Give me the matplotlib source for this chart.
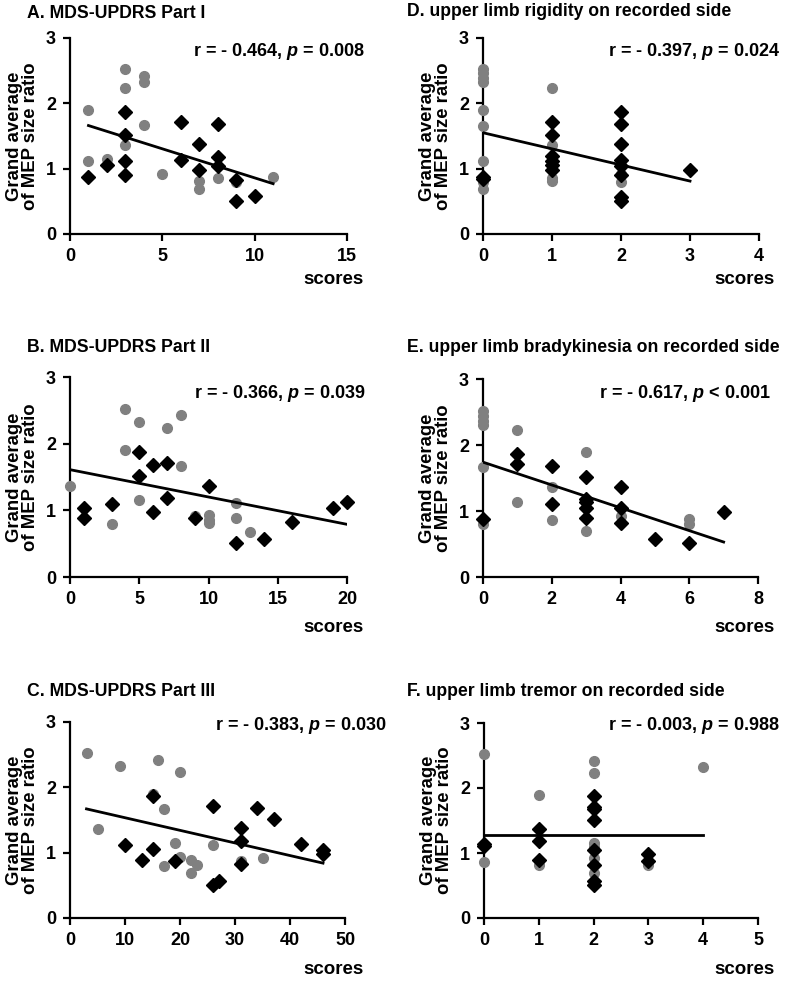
import numpy as np
import matplotlib
matplotlib.use("Agg")
import matplotlib.pyplot as plt

plt.rcParams['font.family'] = ['Liberation Sans', 'DejaVu Sans']
plt.rcParams['font.weight'] = 'bold'
plt.rcParams['mathtext.fontset'] = 'custom'
plt.rcParams['mathtext.bfit'] = 'Liberation Sans:italic:bold'
plt.rcParams['mathtext.rm'] = 'Liberation Sans:bold'

# ---- data (gray circles / black diamonds / fitted line) ----
a_gray_x = [1, 1, 2, 3, 3, 3, 4, 4, 4, 5, 7, 7, 8, 9, 11]
a_gray_y = [1.90, 1.11, 1.15, 2.52, 2.23, 1.36, 2.42, 2.33, 1.67, 0.92, 0.81, 0.69, 0.86, 0.80, 0.88]
a_blk_x = [1, 2, 3, 3, 3, 3, 6, 6, 7, 7, 8, 8, 8, 9, 9, 10]
a_blk_y = [0.88, 1.05, 1.87, 1.51, 1.11, 0.90, 1.71, 1.14, 1.37, 0.98, 1.68, 1.18, 1.04, 0.82, 0.51, 0.58]
a_fit_x = [1, 11]
a_fit_y = [1.66, 0.77]

b_gray_x = [0, 3, 4, 4, 5, 5, 7, 8, 8, 9, 10, 10, 10, 12, 12, 13]
b_gray_y = [1.36, 0.80, 2.52, 1.90, 2.32, 1.15, 2.23, 2.43, 1.67, 0.92, 0.93, 0.86, 0.81, 1.11, 0.88, 0.68]
b_blk_x = [1, 1, 3, 5, 5, 6, 6, 7, 7, 9, 10, 12, 14, 16, 19, 20]
b_blk_y = [1.04, 0.89, 1.10, 1.87, 1.51, 1.68, 0.98, 1.71, 1.18, 0.88, 1.37, 0.51, 0.57, 0.82, 1.04, 1.13]
b_fit_x = [0, 20]
b_fit_y = [1.61, 0.79]

c_gray_x = [3, 9, 16, 20, 15, 17, 5, 19, 26, 20, 22, 23, 17, 22, 31, 35]
c_gray_y = [2.52, 2.32, 2.42, 2.23, 1.90, 1.67, 1.36, 1.15, 1.12, 0.93, 0.89, 0.81, 0.80, 0.69, 0.87, 0.92]
c_blk_x = [15, 26, 34, 37, 31, 31, 42, 46, 46, 10, 15, 13, 19, 31, 26, 27]
c_blk_y = [1.87, 1.71, 1.68, 1.51, 1.37, 1.18, 1.14, 1.04, 0.98, 1.11, 1.05, 0.89, 0.88, 0.83, 0.51, 0.57]
c_fit_x = [3, 46]
c_fit_y = [1.67, 0.84]

d_gray_x = [0, 0, 0, 0, 0, 0, 0, 0, 0, 1, 1, 1, 1, 2, 2]
d_gray_y = [2.52, 2.46, 2.39, 2.32, 1.90, 1.66, 1.11, 0.80, 0.69, 2.23, 1.36, 0.86, 0.81, 0.92, 0.80]
d_blk_x = [0, 0, 1, 1, 1, 1, 1, 1, 2, 2, 2, 2, 2, 2, 2, 2, 3]
d_blk_y = [0.88, 0.84, 1.71, 1.51, 1.20, 1.12, 1.05, 0.98, 1.87, 1.68, 1.37, 1.14, 1.04, 0.90, 0.57, 0.51, 0.98]
d_fit_x = [0, 3]
d_fit_y = [1.55, 0.81]

e_gray_x = [0, 0, 0, 0, 0, 0, 1, 1, 2, 2, 3, 3, 3, 4, 6, 6]
e_gray_y = [2.52, 2.44, 2.37, 2.31, 1.66, 0.80, 2.23, 1.14, 1.36, 0.86, 1.90, 1.15, 0.69, 0.92, 0.88, 0.81]
e_blk_x = [0, 1, 1, 2, 2, 3, 3, 3, 3, 3, 4, 4, 4, 5, 6, 7]
e_blk_y = [0.88, 1.87, 1.71, 1.68, 1.11, 1.51, 1.18, 1.14, 1.05, 0.90, 1.37, 1.04, 0.82, 0.57, 0.51, 0.98]
e_fit_x = [0, 7]
e_fit_y = [1.74, 0.53]

f_gray_x = [0, 0, 1, 1, 2, 2, 2, 2, 2, 2, 3, 4]
f_gray_y = [2.52, 0.86, 1.90, 0.81, 2.42, 2.23, 1.15, 1.10, 0.92, 0.69, 0.81, 2.32]
f_blk_x = [0, 0, 1, 1, 1, 2, 2, 2, 2, 2, 2, 2, 2, 3, 3]
f_blk_y = [1.14, 1.11, 1.37, 1.18, 0.90, 1.87, 1.71, 1.68, 1.51, 1.04, 0.82, 0.57, 0.51, 0.98, 0.88]
f_fit_x = [0, 4]
f_fit_y = [1.28, 1.28]

titles = ["A. MDS-UPDRS Part I", "B. MDS-UPDRS Part II", "C. MDS-UPDRS Part III",
          "D. upper limb rigidity on recorded side",
          "E. upper limb bradykinesia on recorded side",
          "F. upper limb tremor on recorded side"]
stats = [r"r = - 0.464, $\mathbfit{p}$ = 0.008", r"r = - 0.366, $\mathbfit{p}$ = 0.039",
         r"r = - 0.383, $\mathbfit{p}$ = 0.030", r"r = - 0.397, $\mathbfit{p}$ = 0.024",
         r"r = - 0.617, $\mathbfit{p}$ < 0.001", r"r = - 0.003, $\mathbfit{p}$ = 0.988"]
xmax = [15, 20, 50, 4, 8, 5]
xstep = [5, 5, 10, 1, 2, 1]

panels = [
    (a_gray_x, a_gray_y, a_blk_x, a_blk_y, a_fit_x, a_fit_y),
    (b_gray_x, b_gray_y, b_blk_x, b_blk_y, b_fit_x, b_fit_y),
    (c_gray_x, c_gray_y, c_blk_x, c_blk_y, c_fit_x, c_fit_y),
    (d_gray_x, d_gray_y, d_blk_x, d_blk_y, d_fit_x, d_fit_y),
    (e_gray_x, e_gray_y, e_blk_x, e_blk_y, e_fit_x, e_fit_y),
    (f_gray_x, f_gray_y, f_blk_x, f_blk_y, f_fit_x, f_fit_y),
]

W, H = 791, 985
fig = plt.figure(figsize=(W / 100, H / 100), dpi=100)

# axes boxes in pixels: left, right, y of top (3), y of bottom (0)
boxes = [(70, 347, 38, 234), (70, 347, 377, 577), (70, 345, 722, 918),
         (483, 759, 38, 234), (483, 758, 379, 577), (484, 758, 723, 918)]
title_pos = [(27, 14), (27, 348), (27, 692), (407, 12), (407, 348), (407, 692)]
stat_pos = [(365, 52), (365, 394), (386, 725), (780, 52), (771, 394), (780, 725)]
scores_pos = [(364, 280), (364, 627), (364, 970), (775, 280), (775, 627), (775, 970)]

for i, (gx, gy, bx, by, fx, fy) in enumerate(panels):
    l, r, t, b = boxes[i]
    ax = fig.add_axes([l / W, 1 - b / H, (r - l) / W, (b - t) / H])
    ax.plot(gx, gy, 'o', color='#808080', markersize=7, clip_on=False, zorder=3)
    ax.plot(bx, by, 'D', color='black', markersize=7, clip_on=False, zorder=4)
    ax.plot(fx, fy, color='black', linewidth=2, zorder=5)
    ax.set_xlim(0, xmax[i])
    ax.set_ylim(0, 3)
    ax.set_xticks(np.arange(0, xmax[i] + 1, xstep[i]))
    ax.set_yticks([0, 1, 2, 3])
    for s in ['top', 'right']:
        ax.spines[s].set_visible(False)
    for s in ['left', 'bottom']:
        ax.spines[s].set_linewidth(1.6)
    ax.tick_params(width=1.6, length=5, labelsize=13, pad=5)
    for lab in ax.get_xticklabels() + ax.get_yticklabels():
        lab.set_fontweight('bold')
    ax.set_ylabel("Grand average\nof MEP size ratio", fontsize=13.3,
                  fontweight='bold', linespacing=0.9, labelpad=5)

    fig.text(title_pos[i][0] / W, 1 - title_pos[i][1] / H, titles[i],
             fontsize=12.7, fontweight='bold', ha='left', va='center')
    fig.text(stat_pos[i][0] / W, 1 - stat_pos[i][1] / H, stats[i],
             fontsize=13, fontweight='bold', ha='right', va='center')
    fig.text(scores_pos[i][0] / W, 1 - scores_pos[i][1] / H, "scores",
             fontsize=13.5, fontweight='bold', ha='right', va='center')

fig.savefig("out.png", dpi=100, facecolor='white')
